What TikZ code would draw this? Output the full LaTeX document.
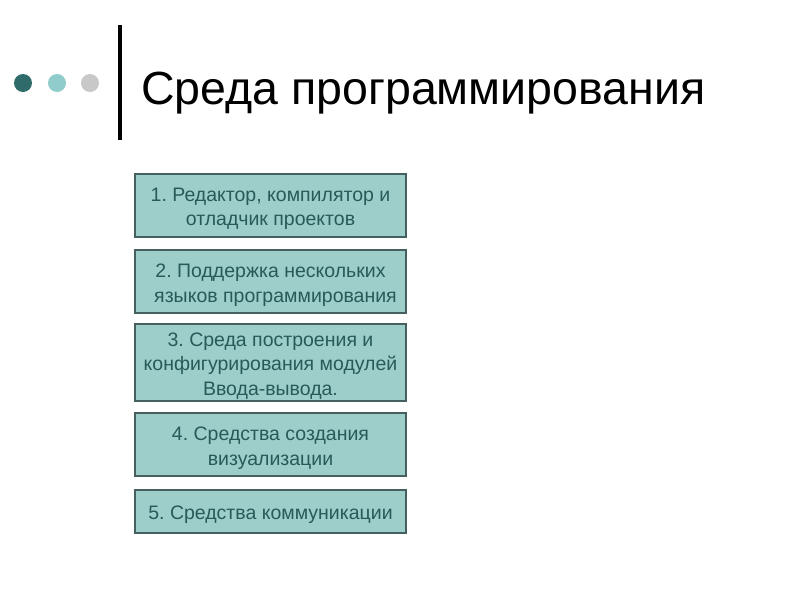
\documentclass[tikz,border=0pt]{standalone}
\usepackage{fontspec}
\setmainfont{Liberation Sans}
\definecolor{boxfill}{RGB}{158,206,202}
\definecolor{boxdraw}{RGB}{70,95,95}
\definecolor{boxtext}{RGB}{40,90,88}
\definecolor{dotA}{RGB}{47,107,106}
\definecolor{dotB}{RGB}{143,204,203}
\definecolor{dotC}{RGB}{200,200,200}
\begin{document}
\frenchspacing
\begin{tikzpicture}[x=1pt,y=-1pt,
  itembox/.style={draw=boxdraw,line width=1.2pt,fill=boxfill,minimum width=271pt,inner sep=0pt},
  itemtext/.style={inner sep=0pt,align=center,text=boxtext,yshift=-3.5pt,
    font=\fontsize{19.5}{24.5}\selectfont},
  dot/.style={circle,inner sep=0pt,minimum size=18pt}]
\useasboundingbox[fill=white] (0,0) rectangle (800,600);
\node[dot,fill=dotA] (d1) at (23,83) {};
\node[dot,fill=dotB] (d2) at (57,83) {};
\node[dot,fill=dotC] (d3) at (90,83) {};
\coordinate (lt) at (120,25);
\coordinate (lb) at (120,140);
\draw[line width=4pt] (lt) -- (lb);
\node[anchor=base west,inner sep=0pt,font=\fontsize{46.5}{56}\selectfont] (title) at (141,104) {Среда программирования};
\node[itembox,minimum height=63pt] (b1) at (270.5,205.5) {};
\node[itembox,minimum height=63pt] (b2) at (270.5,281.5) {};
\node[itembox,minimum height=77pt] (b3) at (270.5,362.5) {};
\node[itembox,minimum height=63pt] (b4) at (270.5,444.5) {};
\node[itembox,minimum height=43pt] (b5) at (270.5,511.5) {};
\node[itemtext] (t1) at (b1.center) {1. Редактор, компилятор и\\отладчик проектов};
\node[itemtext] (t2) at (b2.center) {2. Поддержка нескольких\\\hspace*{10pt}языков программирования};
\node[itemtext] (t3) at (b3.center) {3. Среда построения и\\конфигурирования модулей\\Ввода-вывода.};
\node[itemtext] (t4) at (b4.center) {4. Средства создания\\визуализации};
\node[itemtext] (t5) at (b5.center) {5. Средства коммуникации};
\end{tikzpicture}
\end{document}
